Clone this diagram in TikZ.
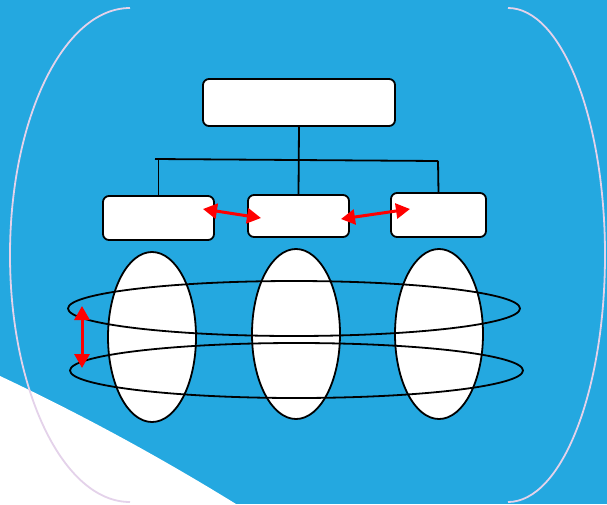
\documentclass[tikz,border=0pt]{standalone}
\usetikzlibrary{arrows.meta, shapes.geometric, positioning}
\definecolor{skyblue}{HTML}{24A8E0}
\definecolor{palelilac}{HTML}{E4D2EA}

\begin{document}
\begin{tikzpicture}[% styles used in image code
       x = 1pt, y = -1pt,
       > = {Triangle[length=14pt, width=15pt]},
box/.style = {draw, line width=1.8pt, fill=white, rounded corners=6pt,
              inner sep=0pt, outer sep=0pt},
blob/.style = {draw, line width=1.8pt, fill=white, ellipse,
               minimum width=88pt, minimum height=170pt, inner sep=0pt},
ring/.style = {draw, line width=1.8pt},
link/.style = {line width=1.8pt},
swap/.style = {<->, red, line width=3pt},
rim/.style  = {palelilac, line width=1.8pt}
                    ]
	% background
	\useasboundingbox (0,0) rectangle (607,504);
	\fill[skyblue] (0,0) rectangle (607,504);
	\fill[white] (0,376) .. controls (80.7,414) and (159.3,456.7) .. (236,504) -- (0,504) -- cycle;
	
	% side brackets
	\draw[rim] (130,8) arc[start angle=90, end angle=270, x radius=120pt, y radius=247pt];
	\draw[rim] (508,8) arc[start angle=90, end angle=-90, x radius=97pt, y radius=247pt];
	
	% boxes
	\node[box, minimum width=192pt, minimum height=47pt] (top)  at (299,102.5) {};
	\node[box, minimum width=111pt, minimum height=44pt] (lbox) at (158.5,218) {};
	\node[box, minimum width=101pt, minimum height=42pt] (mbox) at (298.5,216) {};
	\node[box, minimum width=95pt,  minimum height=44pt] (rbox) at (438.5,215) {};
	
	% tree lines
	\coordinate (barW) at (155,159);
	\coordinate (barE) at (438,161);
	\draw[link] (top.south) -- (mbox.north);
	\draw[link] (barW) -- (barE);
	\draw[link] (lbox.north) -- ++(0,-36);
	\draw[link] (rbox.north) -- (barE);
	
	% columns
	\node[blob] (lcol) at (152,337) {};
	\node[blob] (mcol) at (296,334) {};
	\node[blob] (rcol) at (439,334) {};
	
	% rings
	\draw[ring] (294,308.5) ellipse [x radius=226pt, y radius=27.5pt];
	\draw[ring] (296.5,370.5) ellipse [x radius=226.5pt, y radius=27.5pt];
	
	% red arrows
	\coordinate (a1) at (203,209);
	\coordinate (a2) at (261,218);
	\coordinate (b1) at (341,219);
	\coordinate (b2) at (410,209);
	\coordinate (c1) at (82,306);
	\coordinate (c2) at (82,368);
	\draw[swap] (a1) -- (a2);
	\draw[swap] (b1) -- (b2);
	\draw[swap] (c1) -- (c2);
\end{tikzpicture}
\end{document}
